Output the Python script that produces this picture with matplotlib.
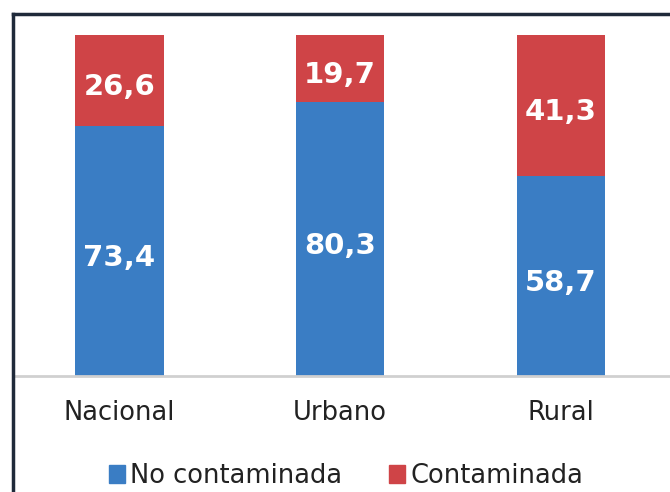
import matplotlib
matplotlib.use("Agg")
import matplotlib.pyplot as plt
from matplotlib.patches import Patch
from matplotlib.lines import Line2D

categories = ["Nacional", "Urbano", "Rural"]
no_contaminada = [73.4, 80.3, 58.7]
contaminada = [26.6, 19.7, 41.3]
series_names = ["No contaminada", "Contaminada"]

blue = "#3a7dc4"
red = "#cf4447"

W, H = 670, 492
fig = plt.figure(figsize=(W / 100, H / 100), dpi=100)
plt.rcParams['font.family'] = ['DejaVu Sans']

ax = fig.add_axes([14 / W, (H - 376) / H, 1 - 14 / W, (376 - 35) / H])
x = list(range(len(categories)))
ax.bar(x, no_contaminada, width=0.4, color=blue)
ax.bar(x, contaminada, width=0.4, bottom=no_contaminada, color=red)

def fmt(v):
    return f"{v:.1f}".replace(".", ",")

for i in x:
    ax.text(i, no_contaminada[i] / 2 - 2, fmt(no_contaminada[i]), ha="center", va="center",
            color="white", fontsize=21, fontweight="bold")
    ax.text(i, no_contaminada[i] + contaminada[i] / 2 - 2, fmt(contaminada[i]), ha="center",
            va="center", color="white", fontsize=21, fontweight="bold")

ax.set_xlim(-0.478, 2.494)
ax.set_ylim(0, 100)
for s in ["top", "right", "left"]:
    ax.spines[s].set_visible(False)
ax.spines["bottom"].set_color("#d0d0d0")
ax.spines["bottom"].set_linewidth(2)
ax.set_yticks([])
ax.set_xticks(x)
ax.set_xticklabels(categories, fontsize=18.5, color="#222222")
ax.tick_params(axis="x", length=0, pad=17)

# frame lines (left and top)
fig.add_artist(Line2D([13 / W, 13 / W], [0, 1 - 14 / H], color="#1f2a3a", linewidth=2.5,
                      transform=fig.transFigure, solid_capstyle="projecting"))
fig.add_artist(Line2D([13 / W, 1], [1 - 14 / H, 1 - 14 / H], color="#1f2a3a", linewidth=2.5,
                      transform=fig.transFigure, solid_capstyle="projecting"))

handles = [Patch(color=blue), Patch(color=red)]
fig.legend(handles, series_names, loc="center", bbox_to_anchor=(346 / W, 1 - 476 / H), ncol=2,
           frameon=False, fontsize=18.5, handlelength=0.65, handleheight=0.65, handletextpad=0.2,
           columnspacing=1.8, labelcolor="#222222")

fig.savefig("out.png", dpi=100)
